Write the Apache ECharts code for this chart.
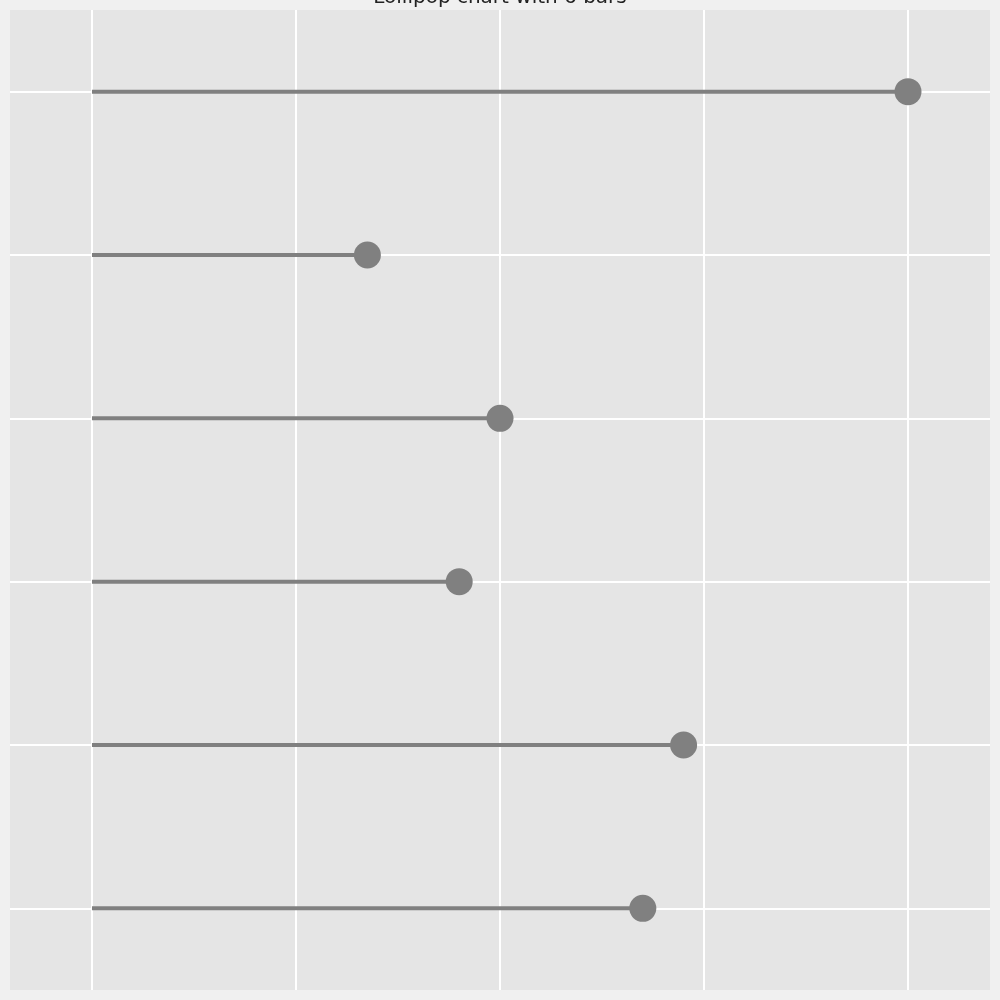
<!DOCTYPE html>
<html>
<head>
<meta charset="utf-8">
<script src="https://cdn.jsdelivr.net/npm/echarts@6/dist/echarts.min.js"></script>
<style>html,body{margin:0;padding:0;background:#f0f0f0;}#c{width:1000px;height:1000px;}</style>
</head>
<body>
<div id="c"></div>
<script>
const categories = ['Bar 1', 'Bar 2', 'Bar 3', 'Bar 4', 'Bar 5', 'Bar 6'];
const values = [2.70, 2.90, 1.80, 2.00, 1.35, 4.00];
const xTicks = [0, 1, 2, 3, 4];
const titleText = 'Lollipop chart with 6 bars';

const chart = echarts.init(document.getElementById('c'));
const gridLines = xTicks.map(v => ({ xAxis: v })).concat(categories.map(c => ({ yAxis: c })));
chart.setOption({
  backgroundColor: '#f0f0f0',
  animation: false,
  title: {
    text: titleText, left: 'center', top: -17,
    textStyle: { fontFamily: 'DejaVu Sans', fontSize: 20, fontWeight: 'normal', color: '#222' }
  },
  grid: { left: 10, right: 10, top: 10, bottom: 10, show: true, backgroundColor: '#e5e5e5', borderWidth: 0 },
  xAxis: {
    type: 'value', min: -0.402, max: 4.402,
    splitLine: { show: false }, axisLine: { show: false }, axisTick: { show: false }, axisLabel: { show: false }
  },
  yAxis: {
    type: 'category', data: categories, boundaryGap: true,
    splitLine: { show: false }, axisLine: { show: false }, axisTick: { show: false }, axisLabel: { show: false }
  },
  series: [
    {
      type: 'scatter', z: 1, data: [[0, categories[0]]], symbolSize: 0, silent: true,
      markLine: {
        silent: true, symbol: 'none', animation: false, z: 1,
        label: { show: false },
        lineStyle: { color: '#ffffff', width: 2, type: 'solid', opacity: 1 },
        emphasis: { disabled: true },
        data: gridLines
      }
    },
    {
      type: 'bar', z: 3, data: values, barWidth: 4, silent: true,
      itemStyle: { color: '#808080' }
    },
    {
      type: 'scatter', z: 4, data: values.map((v, i) => [v, categories[i]]), symbol: 'circle', symbolSize: 27, silent: true,
      itemStyle: { color: '#808080', opacity: 1 }
    }
  ]
});
</script>
</body>
</html>
